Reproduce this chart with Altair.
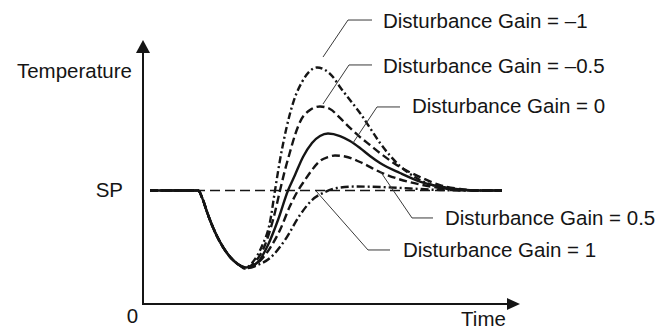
import altair as alt
import pandas as pd

# Time in arbitrary units, temperature normalised so that the set point SP = 100.
SP = 100

# All five responses coincide on the way down to the minimum.
lead_time = [7, 55, 60, 64, 72, 80, 89, 97]
lead_temp = [100, 100, 91.6, 81.1, 63.4, 50.2, 39.6, 33.9]

gain_m1_time = [101, 109, 119, 127, 132, 137, 143, 151, 159, 167, 174, 182, 190, 197,
                207, 217, 227, 237, 257, 277, 294, 317, 337, 359]
gain_m1_temp = [31.3, 36.1, 51.1, 72.2, 100, 126.9, 153.3, 179.7, 195.6, 205.3, 208.4,
                206.2, 200.0, 191.2, 179.7, 168.3, 155.1, 141.9, 121.6, 109.3, 103.5,
                100.4, 100, 100]

gain_m05_time = [102, 112, 122, 130, 137, 142, 147, 152, 157, 167, 177, 187, 197, 207,
                 217, 227, 237, 257, 277, 297, 317, 337, 359]
gain_m05_temp = [31.7, 37.0, 52.0, 74.0, 100, 118.1, 133.9, 148.9, 160.4, 170.9, 174.0,
                 171.8, 163.9, 155.1, 147.1, 140.1, 133.0, 120.7, 111.9, 104.8, 101.3,
                 100, 100]

gain_0_time = [103, 115, 125, 135, 145, 152, 160, 169, 177, 185, 197, 207, 217, 227,
               237, 257, 277, 297, 317, 337, 359]
gain_0_temp = [32.2, 37.0, 52.0, 74.0, 100, 113.7, 129.5, 141.9, 148.0, 150.2, 148.0,
               143.6, 137.4, 130.4, 124.2, 115.4, 107.9, 103.5, 100.9, 100, 100]

gain_p05_time = [103, 117, 127, 137, 147, 155, 162, 169, 177, 185, 192, 202, 217, 237,
                 257, 277, 297, 317, 337, 359]
gain_p05_temp = [32.2, 37.9, 49.3, 65.2, 86.3, 100, 109.3, 118.1, 126.0, 129.5, 130.8,
                 130.0, 125.1, 116.3, 109.7, 105.3, 102.2, 100.4, 100, 100]

gain_p1_time = [105, 115, 127, 142, 157, 169, 182, 194, 212, 237, 267, 297, 327, 359]
gain_p1_temp = [31.7, 34.4, 40.5, 56.4, 78.4, 91.6, 98.7, 102.2, 103.5, 103.1, 101.8,
                100.4, 100, 100]

sp_line_time = [7, 359]

# Annotation text and leader polylines (text anchor, then elbow, then tip on the curve)
label_text = ["Disturbance Gain = \u20131", "Disturbance Gain = \u20130.5",
              "Disturbance Gain = 0", "Disturbance Gain = 0.5", "Disturbance Gain = 1"]
label_time = [240, 240, 269, 302, 260]
label_temp = [243.2, 203.5, 168.3, 69.6, 41.4]
leader_time = [[229, 205, 180], [229, 206, 180], [257, 234, 210], [290, 269, 237], [247, 225, 173]]
leader_temp = [[250.2, 250.2, 217.6], [210.6, 210.6, 176.2], [173.6, 173.6, 141.9],
               [75.8, 75.8, 117.2], [47.6, 47.6, 99.6]]

# Axis extents (arrow bases) and arrow tips
y_axis_top = 221.1
x_axis_end = 364

INK = "#151515"
FONT = "Liberation Sans"

xs = alt.Scale(domain=[-143, 518], nice=False, zero=False)
ys = alt.Scale(domain=[-22.03, 267.84], nice=False, zero=False)


def xy(df, **kw):
    return dict(x=alt.X("t:Q", scale=xs, axis=None),
                y=alt.Y("T:Q", scale=ys, axis=None), **kw)


series = [
    (gain_m1_time, gain_m1_temp, [7, 3, 2, 3]),
    (gain_m05_time, gain_m05_temp, [8, 4]),
    (gain_0_time, gain_0_temp, None),
    (gain_p05_time, gain_p05_temp, [8, 4]),
    (gain_p1_time, gain_p1_temp, [8, 3, 2, 3]),
]

layers = []

# set-point reference
sp_df = pd.DataFrame({"t": sp_line_time, "T": [SP, SP]})
layers.append(alt.Chart(sp_df).mark_line(color=INK, strokeWidth=1.6, strokeDash=[10, 5])
              .encode(**xy(sp_df)))

for times, temps, dash in series:
    df = pd.DataFrame({"t": lead_time + times, "T": lead_temp + temps})
    kw = dict(color=INK, strokeWidth=2.4, interpolate="monotone", strokeCap="butt")
    if dash:
        kw["strokeDash"] = dash
    layers.append(alt.Chart(df).mark_line(**kw).encode(**xy(df)))

# axes
ax_df = pd.DataFrame({"t": [0, 0, x_axis_end], "T": [y_axis_top, 0, 0], "k": [0, 1, 2]})
layers.append(alt.Chart(ax_df).mark_line(color=INK, strokeWidth=2)
              .encode(**xy(ax_df, order="k:Q")))

up_df = pd.DataFrame({"t": [0], "T": [y_axis_top]})
layers.append(alt.Chart(up_df).mark_point(shape="M0,-1L0.54,0L-0.54,0Z", size=676,
                                          filled=True, color=INK, opacity=1, strokeWidth=0)
              .encode(**xy(up_df)))
right_df = pd.DataFrame({"t": [x_axis_end], "T": [0]})
layers.append(alt.Chart(right_df).mark_point(shape="M1,0L0,-0.46L0,0.46Z", size=676,
                                             filled=True, color=INK, opacity=1, strokeWidth=0)
              .encode(**xy(right_df)))

# leader lines
rows = []
for g, (lt, lT) in enumerate(zip(leader_time, leader_temp)):
    for k, (a, b) in enumerate(zip(lt, lT)):
        rows.append({"t": a, "T": b, "g": g, "k": k})
lead_df = pd.DataFrame(rows)
layers.append(alt.Chart(lead_df).mark_line(color="#3a3a3a", strokeWidth=1)
              .encode(**xy(lead_df, detail="g:N", order="k:Q")))

# annotation labels
lab_df = pd.DataFrame({"t": label_time, "T": label_temp, "s": label_text})
layers.append(alt.Chart(lab_df).mark_text(font=FONT, fontSize=20.5, align="left",
                                          baseline="alphabetic", color=INK)
              .encode(**xy(lab_df, text="s:N")))

# axis captions
cap_df = pd.DataFrame({"t": [-11, -20], "T": [199.1, 94.3], "s": ["Temperature", "SP"]})
layers.append(alt.Chart(cap_df).mark_text(font=FONT, fontSize=20.5, align="right",
                                          baseline="alphabetic", color=INK)
              .encode(**xy(cap_df, text="s:N")))
cap2_df = pd.DataFrame({"t": [-10.5, 340.5], "T": [-16.7, -19.0], "s": ["0", "Time"]})
layers.append(alt.Chart(cap2_df).mark_text(font=FONT, fontSize=20.5, align="center",
                                           baseline="alphabetic", color=INK)
              .encode(**xy(cap2_df, text="s:N")))

chart = (alt.layer(*layers)
         .properties(width=661, height=329, padding=0,
                     autosize=alt.AutoSizeParams(type="none"), background="white")
         .configure_view(stroke=None))

chart.save("out.html", embed_options={"renderer": "svg", "actions": False})
